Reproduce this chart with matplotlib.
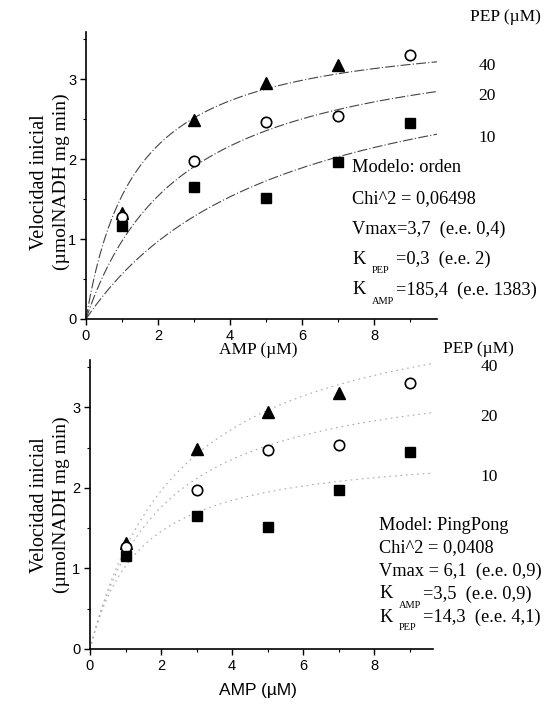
import numpy as np
import matplotlib.pyplot as plt

W, H = 555, 706

# Velocidad inicial medida para cada AMP (uM), una lista por nivel de PEP
amp_points = [1, 3, 5, 7, 9]
vel_pep40 = [1.32, 2.49, 2.95, 3.18]
vel_pep20 = [1.27, 1.98, 2.47, 2.54, 3.30]
vel_pep10 = [1.16, 1.65, 1.51, 1.97, 2.45]
pep_levels = [40, 20, 10]

# Parametros ajustados
orden_vmax, orden_kpep, orden_kamp = 3.7, 0.3, 185.4
pp_vmax, pp_kamp, pp_kpep = 6.1, 3.5, 14.3

orden_lines = ["Modelo: orden", "Chi^2 = 0,06498", "Vmax=3,7  (e.e. 0,4)",
               ("PEP", "=0,3  (e.e. 2)"), ("AMP", "=185,4  (e.e. 1383)")]
pp_lines = ["Model: PingPong", "Chi^2 = 0,0408", "Vmax = 6,1  (e.e. 0,9)",
            ("AMP", "=3,5  (e.e. 0,9)"), ("PEP", "=14,3  (e.e. 4,1)")]

SERIF = "Liberation Serif"
SANS = "Liberation Sans"
FS = 12.5
FS_BLOCK = 13.2


def v_orden(a, b):
    return orden_vmax * a * b / (orden_kamp * orden_kpep + orden_kpep * a + a * b)


def v_pingpong(a, b):
    return pp_vmax * a * b / (pp_kpep * a + pp_kamp * b + a * b)


def fxy(x, y):
    # pixel position -> figure fraction
    return x / W, 1 - y / H


def text_block(fig, x, y0, dy, lines):
    for i, ln in enumerate(lines):
        y = y0 + i * dy
        if isinstance(ln, tuple):
            sub, rest = ln
            fig.text(*fxy(x, y), "K", family=SERIF, fontsize=FS_BLOCK, va="center")
            fig.text(*fxy(x + 20, y + 11), sub, family=SERIF, fontsize=7.5, va="center")
            fig.text(*fxy(x + 44, y), rest, family=SERIF, fontsize=FS_BLOCK, va="center")
        else:
            fig.text(*fxy(x, y), ln, family=SERIF, fontsize=FS_BLOCK, va="center")


def setup_axes(ax, xmax):
    ax.set_xlim(0, xmax)
    ax.set_ylim(0, 3.59)
    for s in ["top", "right"]:
        ax.spines[s].set_visible(False)
    for s in ["left", "bottom"]:
        ax.spines[s].set_linewidth(1.2)
    ax.set_xticks([0, 2, 4, 6, 8])
    ax.set_xticks([1, 3, 5, 7, 9], minor=True)
    ax.set_yticks([0, 1, 2, 3])
    ax.set_yticks([0.5, 1.5, 2.5, 3.5], minor=True)
    ax.tick_params(which="major", direction="out", length=4, width=1,
                   labelsize=10.5, pad=3)
    ax.tick_params(which="minor", direction="out", length=2.5, width=0.8)
    for lab in ax.get_xticklabels() + ax.get_yticklabels():
        lab.set_family(SANS)


def draw_points(ax):
    ax.plot(amp_points[:4], vel_pep40, "^", color="black", ms=8, clip_on=False)
    ax.plot(amp_points, vel_pep20, "o", mfc="white", mec="black", mew=1.2,
            ms=7.5, clip_on=False)
    ax.plot(amp_points, vel_pep10, "s", color="black", ms=6.5, clip_on=False)


fig = plt.figure(figsize=(W / 100, H / 100), dpi=100)

# --- modelo ordenado ---
ax1 = fig.add_axes([86 / W, 1 - 319 / H, (437 - 86) / W, (319 - 32) / H])
setup_axes(ax1, 9.75)
a = np.linspace(0, 9.75, 300)
for pep in pep_levels:
    v = v_orden(a, pep)
    ax1.plot(a, v, color="#444444", lw=0.8, linestyle=(0, (9, 2, 1, 2)))
    ax1.text(10.9, v[-1] - 0.05, str(pep), family=SERIF, fontsize=FS,
             va="center", ha="left", clip_on=False)
draw_points(ax1)
fig.text(*fxy(505, 17), "PEP (\u00b5M)", family=SERIF, fontsize=FS,
         ha="center", va="center")
fig.text(*fxy(258, 350), "AMP (\u00b5M)", family=SERIF, fontsize=FS,
         ha="center", va="center")
text_block(fig, 352, 168, 30.5, orden_lines)

# --- modelo ping pong ---
ax2 = fig.add_axes([90 / W, 1 - 649 / H, (433 - 90) / W, (649 - 360) / H])
setup_axes(ax2, 9.66)
a = np.linspace(0, 9.66, 300)
for pep in pep_levels:
    v = v_pingpong(a, pep)
    ax2.plot(a, v, color="#aaaaaa", lw=0.8, linestyle=(0, (1.5, 3.5)))
    ax2.text(11.0, v[-1] - 0.05, str(pep), family=SERIF, fontsize=FS,
             va="center", ha="left", clip_on=False)
draw_points(ax2)
fig.text(*fxy(478, 349), "PEP (\u00b5M)", family=SERIF, fontsize=FS,
         ha="center", va="center")
fig.text(*fxy(258, 691), "AMP (\u00b5M)", family=SANS, fontsize=12.5,
         ha="center", va="center")
text_block(fig, 379, 525, 23, pp_lines)

# etiquetas del eje y en dos lineas
for yc in [182, 505]:
    fig.text(*fxy(39, yc), "Velocidad inicial", family=SERIF, fontsize=14.5,
             rotation=90, ha="center", va="center")
    fig.text(*fxy(61, yc), "(\u00b5molNADH mg min)", family=SERIF, fontsize=14,
             rotation=90, ha="center", va="center")

fig.savefig("out.png", dpi=100)
